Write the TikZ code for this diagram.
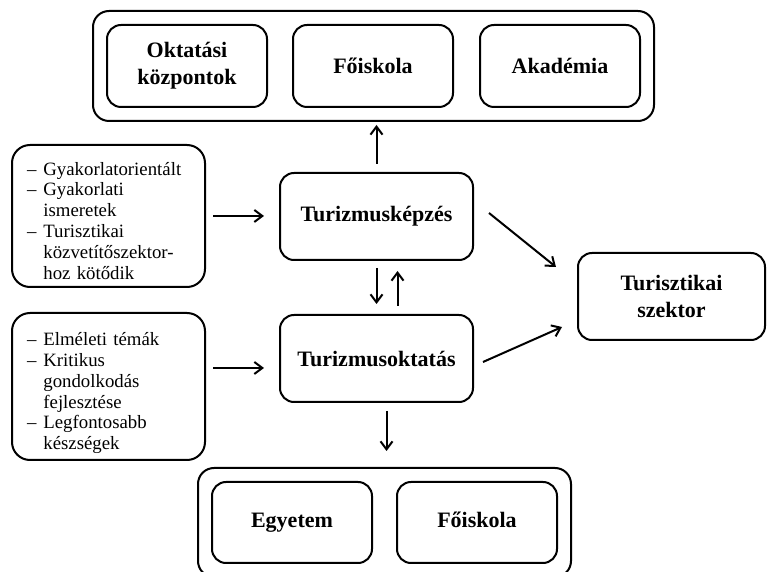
\documentclass[tikz,border=0pt]{standalone}
\usepackage{fontspec}
\setmainfont{Liberation Serif}
\usetikzlibrary{arrows.meta,fit,calc}

\tikzset{
  doboz/.style={draw,line width=1pt,rounded corners=7pt,align=center,
    font=\fontsize{11}{13.5}\selectfont\bfseries,inner sep=2pt},
  lista/.style={draw,line width=1pt,rounded corners=9pt,align=left,
    text width=81.5pt,inner xsep=7.5pt,
    font=\fontsize{9.4}{10.4}\selectfont},
  keret/.style={draw,line width=1pt,rounded corners=8pt,inner sep=6.5pt},
  nyil/.style={line width=1pt,-{Straight Barb[length=4pt,width=6pt]}}
}

\begin{document}
\begin{tikzpicture}[x=0.5pt,y=-0.5pt]
  \useasboundingbox (0,0) rectangle (767,572);
  %% felso sor
  \node[doboz,minimum width=80pt,minimum height=41pt] (okt) at (187,66) {Oktatási\\központok};
  \node[doboz,minimum width=80pt,minimum height=41pt] (foi) at (373,66) {Főiskola};
  \node[doboz,minimum width=80pt,minimum height=41pt] (aka) at (560,66) {Akadémia};
  \node[keret,fit=(okt)(foi)(aka)] (felso) {};
  %% kozepso sor
  \node[doboz,minimum width=96.5pt,minimum height=43.5pt] (tk) at (376.5,216.5) {Turizmusképzés};
  \node[doboz,minimum width=96.5pt,minimum height=43.5pt] (to) at (376.5,358.5) {Turizmusoktatás};
  \node[doboz,minimum width=93.5pt,minimum height=43.5pt] (tsz) at (671.5,296.5) {Turisztikai\\szektor};
  \node[lista,minimum height=71pt] (lt) at (108.5,216) {\raisebox{-3.5pt}[\height][\depth]{%
  \begin{tabular}{@{}l@{\hspace{3.5pt}}l@{}}
    – & Gyakorlatorientált\\
    – & Gyakorlati\\
      & ismeretek\\
    – & Turisztikai\\
      & közvetítőszektor-\\
      & hoz kötődik
  \end{tabular}}};
  \node[lista,minimum height=73.5pt] (lb) at (108.5,386.5) {\raisebox{-3.5pt}[\height][\depth]{%
  \begin{tabular}{@{}l@{\hspace{3.5pt}}l@{}}
    – & Elméleti témák\\
    – & Kritikus\\
      & gondolkodás\\
      & fejlesztése\\
    – & Legfontosabb\\
      & készségek
  \end{tabular}}};
  %% also sor
  \node[doboz,minimum width=80pt,minimum height=40.5pt,text height=8pt,text depth=2.5pt] (egy) at (292,522.5) {Egyetem};
  \node[doboz,minimum width=80pt,minimum height=40.5pt,text height=8pt,text depth=2.5pt] (foi2) at (477,522.5) {Főiskola};
  \node[keret,fit=(egy)(foi2)] (also) {};
  %% nyilak
  \draw[nyil,shorten <=4pt,shorten >=1.5pt] (tk.north) -- (tk.north |- felso.south);
  \draw[nyil,shorten <=3.5pt,shorten >=7.5pt] (lt.east) -- (lt.east -| tk.west);
  \draw[nyil,shorten <=3.5pt,shorten >=7.5pt] (lb.east |- 0,368) -- (to.west |- 0,368);
  \draw[nyil,shorten <=3.5pt,shorten >=5pt] (tk.south) -- (to.north);
  \draw[nyil,shorten <=4pt,shorten >=5pt] ([xshift=10.5pt]to.north) -- ([xshift=10.5pt]tk.south);
  \draw[nyil,shorten <=4pt,shorten >=8pt] ([xshift=5pt]to.south) -- ([xshift=5pt]to.south |- also.north);
  \draw[nyil] ($(tk.east)+(15,-3.5)$) -- ($(tsz.west)+(-21,-29.5)$);
  \draw[nyil] ($(to.east)+(9,3.5)$) -- ($(tsz.west)+(-15,30.5)$);
\end{tikzpicture}
\end{document}
